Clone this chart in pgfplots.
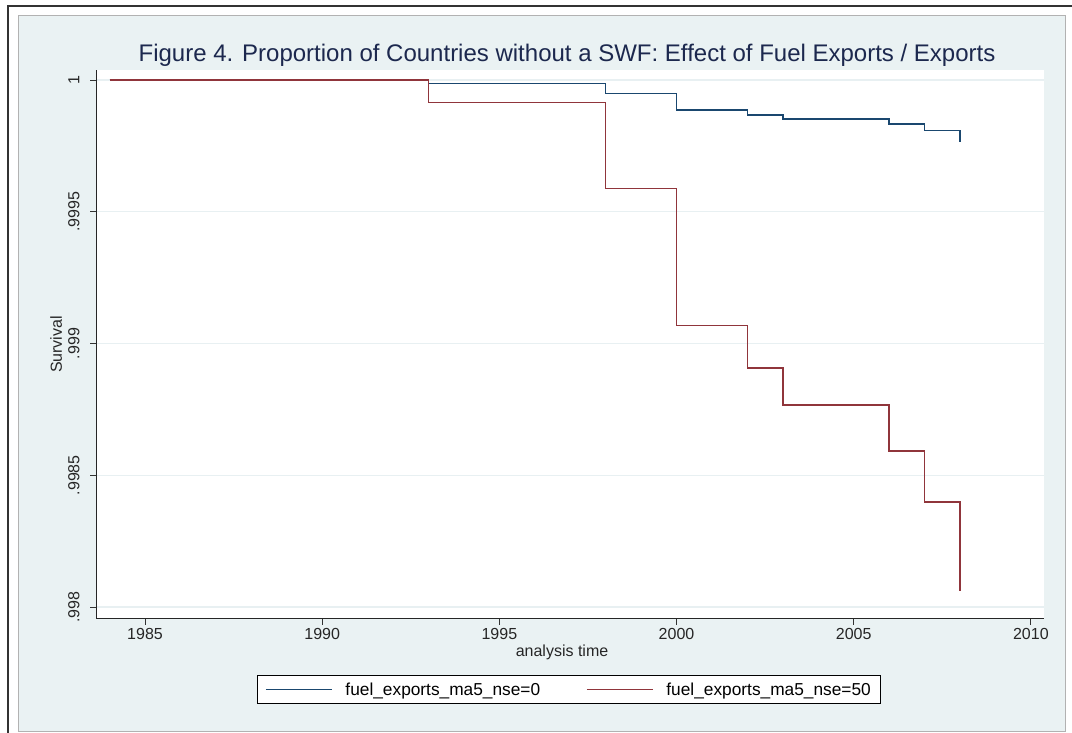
\documentclass[border=0pt]{standalone}
\usepackage{fontspec}
\setmainfont{Liberation Sans}
\usepackage{pgfplots}
\pgfplotsset{compat=1.18}
\definecolor{bg}{RGB}{234,242,243}
\definecolor{gridc}{RGB}{232,240,242}
\definecolor{snavy}{RGB}{26,71,111}
\definecolor{smaroon}{RGB}{144,53,59}
\definecolor{dknavy}{RGB}{28,40,78}
% Survival values are given as (S - 1) x 10^4 to keep precision:
% e.g. -0.14 means S = 0.999986
\begin{document}
\begin{tikzpicture}
\path[fill=white,use as bounding box] (0pt,0pt) rectangle (1072pt,733pt);
\draw[line width=2pt, black!80] (8pt,0pt) -- (8pt,727pt) -- (1072pt,727pt);
\filldraw[fill=bg, draw=black!30, line width=1pt] (18pt,1pt) rectangle (1065pt,717pt);
\node[font=\fontsize{24}{28}\selectfont, text=dknavy] at (567pt,678pt) {Figure 4. Proportion of Countries without a SWF: Effect of Fuel Exports / Exports};
\begin{axis}[
  at={(96pt,114pt)}, anchor=south west,
  scale only axis, width=948pt, height=549pt,
  xmin=1983.617, xmax=2010.37, ymin=-20.455, ymax=0.38,
  axis x line=bottom, axis y line=left,
  axis line style={-, line width=1pt, black!85},
  xtick={1985,1990,1995,2000,2005,2010},
  ytick={-20,-15,-10,-5,0},
  yticklabels={.998,.9985,.999,.9995,1},
  /pgf/number format/1000 sep={},
  /pgf/number format/assume math mode=true,
  tick align=outside, major tick length=6pt,
  tick style={black!80, line width=1pt},
  ymajorgrids, grid style={gridc, line width=1.2pt},
  axis background/.style={fill=white},
  tick label style={font=\fontsize{16}{19}\selectfont, text=black!85},
  yticklabel style={xshift=-7pt, rotate=90, anchor=south},
  xlabel={analysis time}, ylabel={Survival},
  label style={font=\fontsize{16}{19}\selectfont, text=black!85},
  xlabel style={at={(axis description cs:0.4916,-0.060)}, anchor=center},
  ylabel style={at={(axis description cs:-0.042,0.5)}, anchor=center, rotate=0},
  legend style={at={(0.499,-0.1284)}, anchor=center, draw=black, line width=0.8pt,
    fill=white, font=\fontsize{17.3}{20}\selectfont, legend columns=2,
    /tikz/every odd column/.append style={column sep=11pt},
    /tikz/every even column/.append style={column sep=44pt},
    inner xsep=8pt, inner ysep=5pt},
  legend cell align=left,
  legend image code/.code={\draw[line width=1.2pt, #1] (0pt,0pt) -- (66pt,0pt);},
]
\addplot[const plot, draw={rgb,255:red,26;green,71;blue,111}, line width=1.6pt] coordinates {
  (1984,0) (1993,-0.14) (1998,-0.505) (2000,-1.127) (2002,-1.328)
  (2003,-1.48) (2006,-1.68) (2007,-1.91) (2008,-2.34)};
\addlegendentry{fuel\_exports\_ma5\_nse=0}
\addplot[const plot, draw={rgb,255:red,144;green,53;blue,59}, line width=1.6pt] coordinates {
  (1984,0) (1993,-0.86) (1998,-4.11) (2000,-9.32) (2002,-10.92)
  (2003,-12.33) (2006,-14.08) (2007,-16.02) (2008,-19.39)};
\addlegendentry{fuel\_exports\_ma5\_nse=50}
\end{axis}
\end{tikzpicture}
\end{document}
